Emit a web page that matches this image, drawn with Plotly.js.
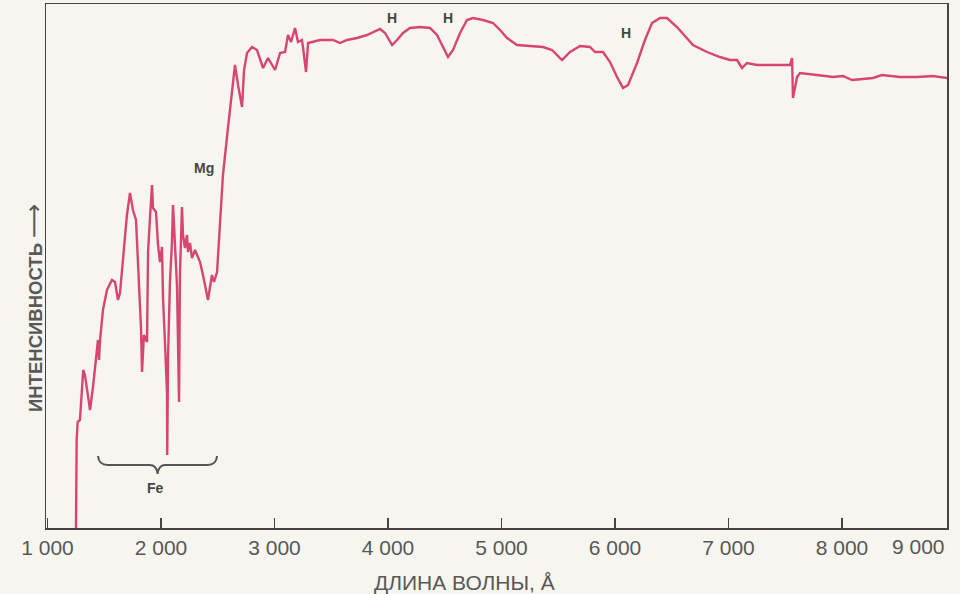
<!DOCTYPE html>
<html>
<head>
<meta charset="utf-8">
<script src="https://cdn.plot.ly/plotly-3.0.1.min.js"></script>
<style>
  html, body { margin: 0; padding: 0; background: #f6f5ef; }
  #chart { width: 960px; height: 594px; }
</style>
</head>
<body>
<div id="chart"></div>
<script>
// Wavelength (Å)
const wavelength = [
  1251, 1257, 1266, 1286, 1315, 1330, 1375, 1401, 1445, 1454, 1463, 1489, 1524, 1568, 1595, 1621, 1639, 1665,
  1700, 1727, 1753, 1780, 1797, 1824, 1833, 1850, 1877, 1886, 1903, 1921, 1930, 1956, 1974, 1991, 2009, 2018,
  2035, 2053, 2055, 2062, 2079, 2097, 2106, 2123, 2141, 2150, 2159, 2167, 2185, 2194, 2211, 2229, 2238, 2256,
  2273, 2300, 2317, 2344, 2370, 2405, 2414, 2449, 2467, 2494, 2520, 2546, 2590, 2626, 2652, 2679, 2714, 2732,
  2758, 2802, 2846, 2899, 2943, 3005, 3049, 3093, 3119, 3146, 3181, 3207, 3242, 3251, 3278, 3296, 3339, 3401,
  3516, 3577, 3639, 3727, 3815, 3868, 3930, 3974, 4036, 4080, 4132, 4194, 4282, 4370, 4432, 4485, 4529, 4573,
  4635, 4696, 4749, 4837, 4925, 4987, 5049, 5137, 5251, 5366, 5445, 5533, 5604, 5692, 5780, 5824, 5894, 5956,
  6018, 6071, 6115, 6194, 6264, 6326, 6397, 6458, 6546, 6687, 6811, 6925, 7013, 7075, 7119, 7163, 7251, 7542,
  7560, 7568, 7604, 7630, 7780, 7921, 8009, 8088, 8185, 8273, 8352, 8511, 8660, 8801, 8925
];
// Relative intensity (arbitrary units)
const intensity = [
  0, 88, 106, 108, 158, 153, 118, 141, 188, 168, 188, 218, 238, 248, 246, 228, 235, 268,
  313, 335, 318, 308, 270, 200, 156, 193, 186, 276, 310, 343, 320, 316, 283, 266, 281, 230,
  186, 136, 73, 170, 246, 286, 323, 286, 243, 186, 126, 253, 321, 293, 280, 293, 276, 285,
  270, 278, 273, 266, 253, 233, 228, 253, 246, 256, 303, 353, 400, 438, 463, 443, 421, 458,
  475, 481, 478, 460, 470, 458, 475, 476, 493, 486, 500, 486, 488, 481, 456, 485, 486, 488,
  488, 485, 488, 490, 493, 496, 499, 495, 483, 488, 495, 500, 501, 500, 493, 481, 471, 478,
  495, 508, 510, 508, 505, 498, 490, 483, 482, 481, 478, 468, 476, 482, 481, 476, 476, 466,
  451, 440, 443, 465, 488, 505, 510, 510, 501, 483, 476, 471, 468, 468, 460, 465, 463, 463,
  470, 430, 451, 455, 453, 451, 452, 448, 449, 450, 453, 451, 451, 452, 450
];
const tickValues = [1000, 2000, 3000, 4000, 5000, 6000, 7000, 8000];
const tickLabels = ["1 000", "2 000", "3 000", "4 000", "5 000", "6 000", "7 000", "8 000"];
const lastTickLabel = "9 000";
const lineLabels = ["Mg", "H", "H", "H", "Fe"];
const lineLabelX = [2379, 4036, 4529, 6097, 1956];
const lineLabelY = [360, 510, 510, 495, 40];

const ink = "#454545";
const gray = "#585858";
const fontFam = "'Liberation Sans', Arial, sans-serif";

const trace = {
  x: wavelength,
  y: intensity,
  type: "scatter",
  mode: "lines",
  line: { color: "#d8456f", width: 2.4, shape: "linear" },
  hoverinfo: "x+y"
};

const annotations = lineLabels.map((t, i) => ({
  x: lineLabelX[i], y: lineLabelY[i], xref: "x", yref: "y",
  text: "<b>" + t + "</b>", showarrow: false,
  font: { family: fontFam, size: 14, color: ink }
}));
annotations.push({
  x: 1, y: 0, xref: "paper", yref: "paper", xanchor: "right", yanchor: "middle", yshift: -18.5,
  text: lastTickLabel, showarrow: false,
  font: { family: fontFam, size: 21, color: gray }
});
annotations.push({
  x: 0.465, y: -0.104, xref: "paper", yref: "paper", yanchor: "middle",
  text: "ДЛИНА ВОЛНЫ, Å", showarrow: false,
  font: { family: fontFam, size: 21, color: gray }
});
annotations.push({
  x: -0.031, y: 0.42, xref: "paper", yref: "paper", textangle: -90,
  text: "<b>ИНТЕНСИВНОСТЬ</b> <span style='font-family:DejaVu Sans;font-size:24px'>⟶</span>", showarrow: false,
  font: { family: fontFam, size: 18.5, color: gray }
});

const layout = {
  width: 960, height: 594,
  margin: { l: 46, r: 13, t: 4, b: 66 },
  paper_bgcolor: "#f6f5ef",
  plot_bgcolor: "#f6f5ef",
  showlegend: false,
  xaxis: {
    range: [987, 8925],
    tickvals: tickValues, ticktext: tickLabels,
    ticks: "inside", ticklen: 10, tickwidth: 1.2, tickcolor: "#444",
    showline: true, linecolor: "#444", linewidth: 1.5, mirror: true,
    showgrid: false, zeroline: false,
    tickfont: { family: fontFam, size: 21, color: gray }
  },
  yaxis: {
    range: [0, 524],
    showticklabels: false, ticks: "",
    showline: true, linecolor: "#444", linewidth: 1.5, mirror: true,
    showgrid: false, zeroline: false
  },
  annotations: annotations,
  shapes: [{
    type: "path", xref: "x", yref: "y",
    path: "M 1445,72 Q 1452,63 1530,63 L 1900,63 Q 1962,63 1970,54 Q 1978,63 2040,63 L 2410,63 Q 2488,63 2494,72",
    line: { color: "#555", width: 2 }
  }]
};

Plotly.newPlot("chart", [trace], layout, { displayModeBar: false, staticPlot: true });
</script>
</body>
</html>
